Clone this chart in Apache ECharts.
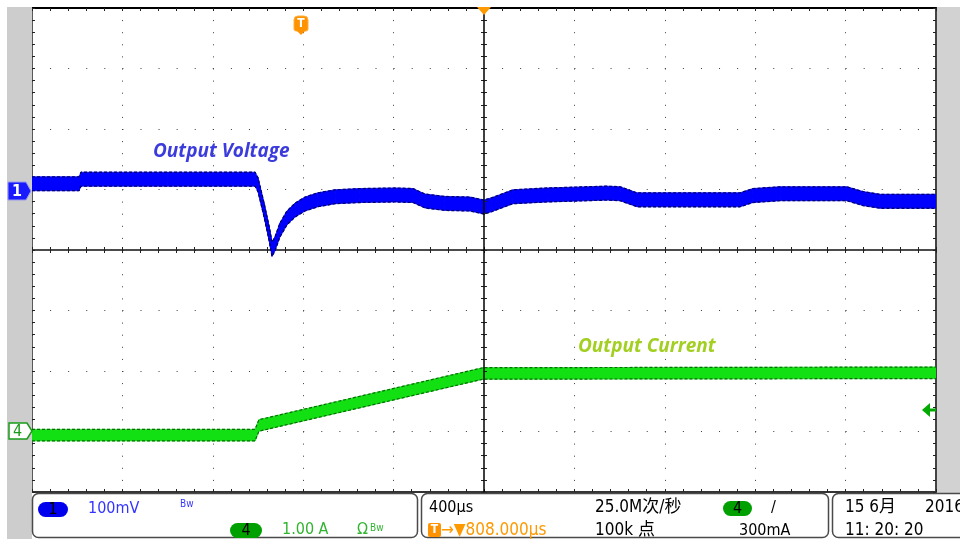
<!DOCTYPE html>
<html><head><meta charset="utf-8">
<script src="https://cdn.jsdelivr.net/npm/echarts@6/dist/echarts.min.js"></script>
<style>html,body{margin:0;padding:0;background:#fff}#c{width:960px;height:539px}</style>
</head><body><div id="c"></div>
<script>
// ---- data (time in µs relative to screen centre; 400 µs/div) ----
const timeV = [-2000, -1792, -1783, -1400, -1013, -1000, -973, -951, -938, -925, -903, -872, -836, -792, -735, -659, -549, -394, -314, -261, -173, -62, 0, 35, 128, 279, 544, 602, 677, 792, 1133, 1190, 1310, 1606, 1677, 1752, 2000];
const voltageMv = [9.5, 9.5, 17, 17, 17, 8, -34, -72, -99, -90, -67, -47, -34, -24, -17, -12, -10, -9, -10, -19, -23, -24, -29, -25, -12, -9, -6, -7, -17, -17, -17, -10, -7, -7, -15, -19.5, -19.5];
const timeI = [-2000, -1013, -996, -4, 2000];
const currentA = [-0.06, -0.06, 0.10, 0.96, 0.97];
const voltageNoiseMv = 23;   // peak-to-peak noise band of CH1
const currentNoiseA = 0.19;  // peak-to-peak noise band of CH4
const voltageRange = [-500, 300];  // 100 mV/div, offset +1 div
const currentRange = [-1, 7];      // 1.00 A/div, offset -3 div
const timeRange = [-2000, 2000];
const timeDiv = 400;
const divRange = [-4, 4];

const chart = echarts.init(document.getElementById('c'), null, {renderer: 'canvas'});
const TICK = {color: '#222', width: 1};
const DOT = '#3c3c3c';
function xAx(o) {
  return Object.assign({
    type: 'value', min: timeRange[0], max: timeRange[1], interval: timeDiv,
    axisLabel: {show: false}, splitLine: {show: false},
    axisTick: {show: true, inside: true, length: 3, lineStyle: TICK},
    minorTick: {show: true, splitNumber: 5, length: 3, lineStyle: TICK}
  }, o);
}
function yAx(o) {
  return Object.assign({
    type: 'value', min: divRange[0], max: divRange[1], interval: 1,
    axisLabel: {show: false}, splitLine: {show: false},
    axisTick: {show: true, inside: true, length: 3, lineStyle: TICK},
    minorTick: {show: true, splitNumber: 5, length: 3, lineStyle: TICK}
  }, o);
}
function band(times, vals, half, yIdx, color) {
  const segs = [];
  for (let i = 0; i < times.length - 1; i++) segs.push([times[i], vals[i], times[i + 1], vals[i + 1]]);
  return {
    type: 'custom', xAxisIndex: 0, yAxisIndex: yIdx, clip: true, silent: true, z: 3,
    encode: {x: [0, 2], y: [1, 3]},
    renderItem: function (params, api) {
      const t0 = api.value(0), v0 = api.value(1), t1 = api.value(2), v1 = api.value(3);
      const pts = [api.coord([t0, v0 - half]), api.coord([t1, v1 - half]), api.coord([t1, v1 + half]), api.coord([t0, v0 + half])];
      return {type: 'polygon', shape: {points: pts}, style: {fill: color, stroke: color, lineWidth: 0.8}};
    },
    data: segs
  };
}
function line(times, vals, off, yIdx, color, width, dash) {
  return {
    type: 'line', xAxisIndex: 0, yAxisIndex: yIdx, showSymbol: false, silent: true, z: 4,
    lineStyle: {color: color, width: width, type: dash || 'solid'},
    data: times.map((t, i) => [t, vals[i] + off])
  };
}
const hv = voltageNoiseMv / 2, hi = currentNoiseA / 2;
const F = '"DejaVu Sans Condensed","DejaVu Sans","Noto Sans CJK SC",sans-serif';
function txt(x, y, s, fill, size, extra) {
  return Object.assign({type: 'text', z: 20, style: {text: s, x: x, y: y, fill: fill, font: (size || 16) + 'px ' + F,
    align: 'left', verticalAlign: 'middle', textAlign: 'left', textVerticalAlign: 'middle'}}, extra || {});
}
function pill(x, y, w, fill, label) {
  return [
    {type: 'rect', z: 19, shape: {x: x, y: y, width: w, height: 15, r: 7.5}, style: {fill: fill}},
    {type: 'text', z: 20, style: {text: label, x: x + w / 2, y: y + 8, fill: '#000', font: '16px ' + F,
      align: 'center', verticalAlign: 'middle', textAlign: 'center', textVerticalAlign: 'middle'}}
  ];
}
const LBL = 'italic bold 19px "Open Sans","Noto Sans",sans-serif';
const graphics = [
  {type: 'rect', z: 1, shape: {x: 7, y: 7, width: 25, height: 532}, style: {fill: '#cdcdcd'}},
  {type: 'rect', z: 1, shape: {x: 937, y: 7, width: 23, height: 487}, style: {fill: '#d2d2d2'}},
  // status boxes
  {type: 'rect', z: 18, shape: {x: 32.5, y: 493.5, width: 385, height: 44, r: 6}, style: {fill: '#fff', stroke: '#4a4a4a', lineWidth: 1.5}},
  {type: 'rect', z: 18, shape: {x: 421.5, y: 493.5, width: 407, height: 44, r: 6}, style: {fill: '#fff', stroke: '#4a4a4a', lineWidth: 1.5}},
  {type: 'rect', z: 18, shape: {x: 832.5, y: 493.5, width: 150, height: 44, r: 6}, style: {fill: '#fff', stroke: '#4a4a4a', lineWidth: 1.5}},
  // channel markers
  {type: 'polygon', z: 20, shape: {points: [[8, 182], [26, 182], [31, 191], [26, 200], [8, 200]]}, style: {fill: '#1a1aff', stroke: '#9a9aee', lineWidth: 1}},
  {type: 'text', z: 21, style: {text: '1', x: 17, y: 191.5, fill: '#fff', font: 'bold 16px ' + F, align: 'center', verticalAlign: 'middle', textAlign: 'center', textVerticalAlign: 'middle'}},
  {type: 'polygon', z: 20, shape: {points: [[9, 423], [27, 423], [32, 431], [27, 439], [9, 439]]}, style: {fill: '#fff', stroke: '#1a9a1a', lineWidth: 1.5}},
  {type: 'text', z: 21, style: {text: '4', x: 17.5, y: 431.5, fill: '#1a9a1a', font: '16px ' + F, align: 'center', verticalAlign: 'middle', textAlign: 'center', textVerticalAlign: 'middle'}},
  // trigger markers
  {type: 'polygon', z: 20, shape: {points: [[477, 7], [491, 7], [484, 15]]}, style: {fill: '#ff9900'}},
  {type: 'rect', z: 20, shape: {x: 294, y: 16, width: 14, height: 15, r: [4, 4, 2, 2]}, style: {fill: '#ff9200', stroke: '#ffb040', lineWidth: 1}},
  {type: 'polygon', z: 20, shape: {points: [[296, 30], [306, 30], [301, 35]]}, style: {fill: '#ff9200'}},
  {type: 'text', z: 21, style: {text: 'T', x: 301, y: 24, fill: '#fff', font: 'bold 12px ' + F, align: 'center', verticalAlign: 'middle', textAlign: 'center', textVerticalAlign: 'middle'}},
  {type: 'polygon', z: 20, shape: {points: [[922, 410], [930, 403], [930, 417]]}, style: {fill: '#00aa00'}},
  {type: 'rect', z: 20, shape: {x: 929, y: 408.5, width: 7, height: 3}, style: {fill: '#00aa00'}},
  // trace labels
  {type: 'text', z: 20, style: {text: 'Output Voltage', x: 153, y: 152, fill: '#3c3cdc', font: LBL, align: 'left', verticalAlign: 'middle', textAlign: 'left', textVerticalAlign: 'middle'}},
  {type: 'text', z: 20, style: {text: 'Output Current', x: 578, y: 347, fill: '#a2cf22', font: LBL, align: 'left', verticalAlign: 'middle', textAlign: 'left', textVerticalAlign: 'middle'}},
  // status texts
  txt(88, 509, '100mV', '#3434ff'),
  txt(180, 504, 'Bw', '#3434ff', 10),
  txt(282, 530, '1.00 A', '#2fb52f'),
  txt(357, 530, 'Ω', '#2fb52f'),
  txt(370, 528, 'Bw', '#2fb52f', 10),
  txt(429, 508, '400µs', '#000'),
  {type: 'rect', z: 20, shape: {x: 428, y: 523, width: 13, height: 14, r: 2}, style: {fill: '#ff9200'}},
  {type: 'text', z: 21, style: {text: 'T', x: 434.5, y: 530, fill: '#fff', font: 'bold 12px ' + F, align: 'center', verticalAlign: 'middle', textAlign: 'center', textVerticalAlign: 'middle'}},
  txt(441, 531, '→▼808.000µs', '#ff9900', 17),
  txt(595, 508, '25.0M次/秒', '#000', 17),
  txt(595, 531, '100k 点', '#000', 17),
  txt(771, 508, '/', '#000'),
  txt(739, 531, '300mA', '#000'),
  txt(845, 508, '15 6月', '#000', 17),
  txt(925, 508, '2016', '#000', 17),
  txt(845, 531, '11: 20: 20', '#000', 17)
].concat(pill(38, 502, 30, '#0000ee', '1'), pill(230, 523, 32, '#00a000', '4'), pill(723, 501, 29, '#00a000', '4'));

const option = {
  animation: false,
  backgroundColor: '#ffffff',
  grid: {left: 32, right: 24, top: 8, bottom: 47, containLabel: false},
  xAxis: [
    xAx({position: 'bottom', axisLine: {show: true, onZero: true, onZeroAxisIndex: 0, lineStyle: {color: '#111', width: 1.5}}}),
    xAx({position: 'bottom', axisLine: {show: false, onZero: true, onZeroAxisIndex: 0},
      axisTick: {show: true, inside: false, length: 3, lineStyle: TICK},
      splitLine: {show: true, lineStyle: {color: DOT, width: 1, type: [1, 11.1]}}}),
    xAx({position: 'top', axisLine: {show: true, onZero: false, lineStyle: {color: '#000', width: 2}}}),
    xAx({position: 'bottom', axisLine: {show: true, onZero: false, lineStyle: {color: '#333', width: 2}}})
  ],
  yAxis: [
    yAx({position: 'left', z: 6, axisLine: {show: true, onZero: true, onZeroAxisIndex: 0, lineStyle: {color: '#000', width: 1.5}}}),
    yAx({position: 'left', axisLine: {show: false, onZero: true, onZeroAxisIndex: 0},
      axisTick: {show: true, inside: false, length: 3, lineStyle: TICK},
      splitLine: {show: true, lineStyle: {color: DOT, width: 1, type: [1, 17.08]}}}),
    yAx({position: 'left', axisLine: {show: true, onZero: false, lineStyle: {color: '#222', width: 1.5}}}),
    yAx({position: 'right', axisLine: {show: true, onZero: false, lineStyle: {color: '#444', width: 2}}}),
    {type: 'value', show: false, min: voltageRange[0], max: voltageRange[1]},
    {type: 'value', show: false, min: currentRange[0], max: currentRange[1]}
  ],
  series: [
    band(timeV, voltageMv, hv, 4, '#0000ff'),
    line(timeV, voltageMv, 0, 4, '#0000ff', 3.5),
    line(timeV, voltageMv, hv, 4, '#000070', 1.3, [3, 2]),
    line(timeV, voltageMv, -hv, 4, '#000070', 1.3, [3, 2]),
    band(timeI, currentA, hi, 5, '#12e012'),
    line(timeI, currentA, 0, 5, '#12e012', 3),
    line(timeI, currentA, hi, 5, '#0a6a0a', 1.2, [3, 2]),
    line(timeI, currentA, -hi, 5, '#0a6a0a', 1.2, [3, 2])
  ],
  graphic: {elements: graphics}
};
chart.setOption(option);
</script></body></html>
